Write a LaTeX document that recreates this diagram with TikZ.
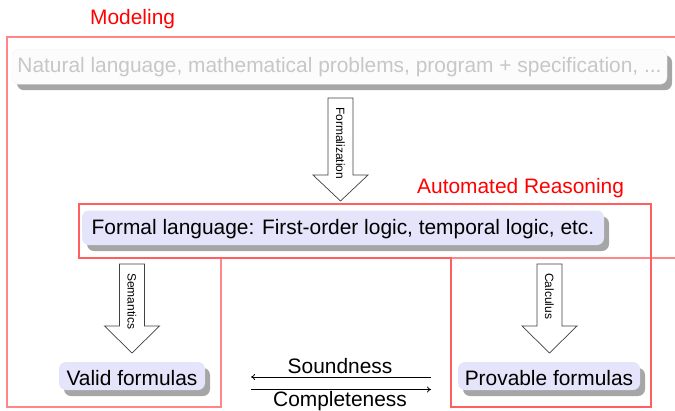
\documentclass[tikz,border=0pt]{standalone}
\usepackage{fontspec}
\setmainfont{Liberation Sans}
\usetikzlibrary{shadows,arrows.meta}
\definecolor{frameMcol}{RGB}{255,135,135}
\definecolor{frameAcol}{RGB}{255,95,95}
\definecolor{formalfill}{RGB}{228,228,250}
\newcommand\fatdown[6]{% name, cx, top, headbase, tip, label
  \draw[fatarrow] ({#2-12.5},#3) -- ({#2+12.5},#3) -- ({#2+12.5},#4) -- ({#2+27.5},#4)
     -- (#2,#5) -- ({#2-27.5},#4) -- ({#2-12.5},#4) -- cycle;
  \node[arrlbl] (#1) at (#2,{#3+9}) {#6};}
\begin{document}
\begin{tikzpicture}[x=1pt,y=-1pt,
  bigfont/.style={font=\fontsize{20.9}{24}\selectfont},
  frameM/.style={draw=frameMcol, line width=1.4pt},
  frameA/.style={draw=frameAcol, line width=1.2pt},
  lbl/.style={bigfont, text=red, inner sep=0pt, anchor=base west},
  box/.style={bigfont, rounded corners=7pt, fill=formalfill, draw=none, inner sep=0pt, anchor=base,
     drop shadow={shadow xshift=5pt, shadow yshift=-6pt, fill=black!35, opacity=1}},
  natbox/.style={box, fill=black!1, draw=black!6, text=black!22},
  fatarrow/.style={draw=black!75, fill=white, line width=0.7pt},
  arrlbl/.style={font=\fontsize{12}{14}\selectfont, rotate=-90, anchor=west, inner sep=0pt},
  txt/.style={bigfont, inner sep=0pt, anchor=base},
  rel/.style={line width=0.8pt, -{To[length=4pt,width=6pt]}}]
\useasboundingbox (0,0) rectangle (675,410);

% boxes
\node[natbox, minimum width=655pt, text height=23.5pt, text depth=11.5pt] (nat) at (339.5,72.7)
  {Natural language, mathematical problems, program + specification, ...};
\node[box, minimum width=522pt, text height=23.5pt, text depth=11pt] (formal) at (343,234)
  {Formal language: First-order logic, temporal logic, etc.};
\node[box, minimum width=146pt, text height=23pt, text depth=5pt] (valid) at (132,385)
  {Valid formulas};
\node[box, minimum width=182pt, text height=23pt, text depth=5pt] (provable) at (549,385)
  {Provable formulas};

% frames
\draw[frameM] (680,258) -- (221,258) -- (221,407) -- (7,407) -- (7,37) -- (680,37);
\draw[frameA] (79,204) -- (651,204) -- (651,407) -- (451,407) -- (451,258) -- (79,258) -- cycle;
\node[lbl] (modeling) at (90,24) {Modeling};
\node[lbl] (autoreas) at (417,193) {Automated Reasoning};

% fat arrows
\fatdown{formalization}{340.5}{98}{175}{201}{Formalization}
\fatdown{semantics}{132}{264}{326}{353}{Semantics}
\fatdown{calculus}{549.5}{264}{326}{353}{Calculus}

% soundness / completeness
\node[txt] (sound) at (340,373.5) {Soundness};
\node[txt] (complete) at (340,406) {Completeness};
\coordinate (sL) at (251,377);
\coordinate (sR) at (431,377);
\coordinate (cL) at (251,389.5);
\coordinate (cR) at (431,389.5);
\draw[rel] (sR) -- (sL);
\draw[rel] (cL) -- (cR);
\end{tikzpicture}
\end{document}
